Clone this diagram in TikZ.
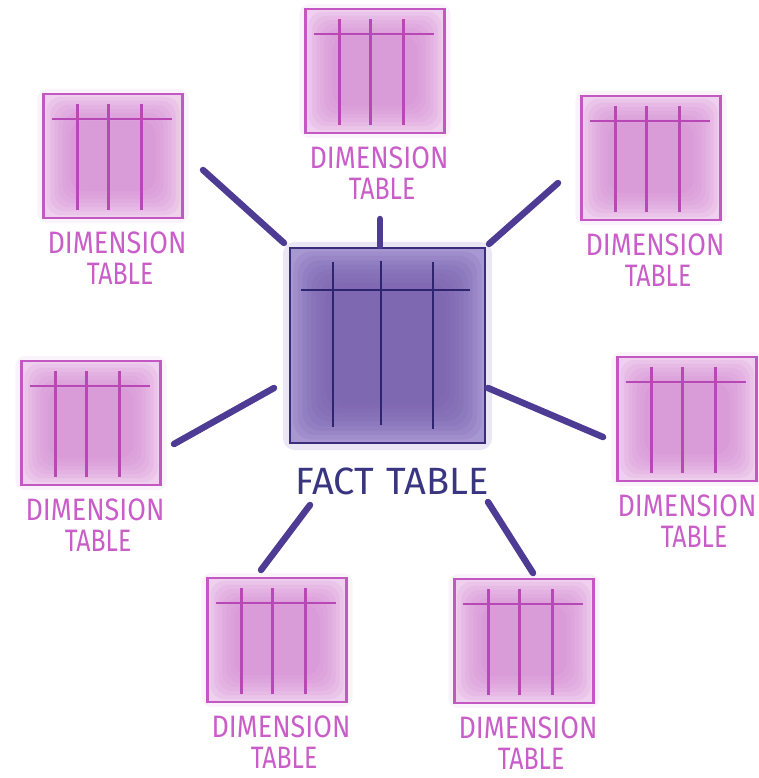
\documentclass[tikz,border=0pt]{standalone}
\usepackage{fontspec}
\setmainfont{Fira Sans}
\usetikzlibrary{calc,backgrounds}
\definecolor{factbase}{HTML}{A898D2}
\definecolor{factcore}{HTML}{7860AE}
\definecolor{factborder}{HTML}{3A2D7A}
\definecolor{factline}{HTML}{2E2470}
\definecolor{facttext}{HTML}{3A3580}
\definecolor{dimbase}{HTML}{EFD0EE}
\definecolor{dimcore}{HTML}{D58BD3}
\definecolor{dimborder}{HTML}{C458C3}
\definecolor{dimline}{HTML}{B748B5}
\definecolor{dimtext}{HTML}{C95EC8}
\definecolor{conn}{HTML}{4E3C94}
\newcommand\dimfont{\fontsize{31}{31}\selectfont}
\newcommand\factfont{\fontsize{38}{38}\selectfont}
\tikzset{
  dimbox/.style={draw=dimborder, line width=2.2pt, minimum width=139pt, minimum height=124pt, inner sep=0pt, fill=none},
  factbox/.style={draw=factborder, line width=2.2pt, minimum width=195pt, minimum height=195pt, inner sep=0pt, fill=none},
  dimgrid/.style={draw=dimline, line width=2.6pt},
  factgrid/.style={draw=factline, line width=2.4pt},
  dimlabel/.style={text=dimtext, font=\dimfont, inner sep=0pt},
  factlabel/.style={text=facttext, font=\factfont, inner sep=0pt},
  connector/.style={draw=conn, line width=6.5pt, line cap=round},
}
% name, x, y, label x shift
\newcommand\dimtable[4]{%
  \node[dimbox] (#1) at (#2,#3) {};
  \begin{pgfonlayer}{background}
    \fill[dimbase!70!white, opacity=0.35, rounded corners=10pt] ($(#1.north west)+(-5,-4)$) rectangle ($(#1.south east)+(5,4)$);
    \fill[dimbase] (#1.north west) rectangle (#1.south east);
    \foreach \k in {1,...,7} {
      \fill[dimcore, opacity=0.16, rounded corners=14pt] ($(#1.north west)+(4*\k,4*\k)$) rectangle ($(#1.south east)+(-4*\k,-4*\k)$);
    }
  \end{pgfonlayer}
  \draw[dimgrid] ($(#1.north west)+(10,26)$) -- ($(#1.north west)+(130,26)$);
  \draw[dimgrid] ($(#1.north west)+(35,11)$) -- ($(#1.north west)+(35,117)$);
  \draw[dimgrid] ($(#1.north west)+(66,11)$) -- ($(#1.north west)+(66,117)$);
  \draw[dimgrid] ($(#1.north west)+(99,11)$) -- ($(#1.north west)+(99,117)$);
  \node[dimlabel] (#1-l1) at ($(#1)+(#4,87)$) {\scalebox{0.87}[1]{DIMENSION}};
  \node[dimlabel] (#1-l2) at ($(#1)+(7,118)$) {\scalebox{0.8}[1]{TABLE}};
}
\begin{document}
\begin{tikzpicture}[x=1pt,y=-1pt]
\useasboundingbox (0,0) rectangle (758,778);
% fact table
\node[factbox] (fact) at (387.5,345.5) {};
\begin{pgfonlayer}{background}
  \fill[factbase!70!white, opacity=0.35, rounded corners=12pt] ($(fact.north west)+(-6,-5)$) rectangle ($(fact.south east)+(6,6)$);
  \fill[factbase] (fact.north west) rectangle (fact.south east);
  \foreach \k in {1,...,9} {
    \fill[factcore, opacity=0.17, rounded corners=18pt] ($(fact.north west)+(4.5*\k,4.5*\k)$) rectangle ($(fact.south east)+(-4.5*\k,-4.5*\k)$);
  }
\end{pgfonlayer}
\draw[factgrid] ($(fact.north west)+(12,43)$) -- ($(fact.north west)+(181,43)$);
\draw[factgrid] ($(fact.north west)+(44,15)$) -- ($(fact.north west)+(44,180)$);
\draw[factgrid] ($(fact.north west)+(92,14)$) -- ($(fact.north west)+(92,178)$);
\draw[factgrid] ($(fact.north west)+(144,15)$) -- ($(fact.north west)+(144,182)$);
\node[factlabel] (factlab) at (392,481) {FACT\hspace{13pt}TABLE};
% dimension tables
\dimtable{dtop}{375}{71}{4}
\dimtable{dtl}{113}{156}{4}
\dimtable{dtr}{651}{158}{4}
\dimtable{dl}{91}{423}{4}
\dimtable{dr}{687}{419}{0}
\dimtable{dbl}{277}{640}{4}
\dimtable{dbr}{524}{641}{4}
% connector ends
\coordinate (ctl1) at (284,243); \coordinate (ctl2) at (203,170);
\coordinate (ctop1) at (380,246); \coordinate (ctop2) at (380,219);
\coordinate (ctr1) at (489,244); \coordinate (ctr2) at (558,183);
\coordinate (cl1) at (274,388); \coordinate (cl2) at (174,444);
\coordinate (cr1) at (488,388); \coordinate (cr2) at (603,437);
\coordinate (cbl1) at (310,505); \coordinate (cbl2) at (261,570);
\coordinate (cbr1) at (488,502); \coordinate (cbr2) at (533,573);
\draw[connector] (ctl1) -- (ctl2);
\draw[connector] (ctop1) -- (ctop2);
\draw[connector] (ctr1) -- (ctr2);
\draw[connector] (cl1) -- (cl2);
\draw[connector] (cr1) -- (cr2);
\draw[connector] (cbl1) -- (cbl2);
\draw[connector] (cbr1) -- (cbr2);
\end{tikzpicture}
\end{document}
